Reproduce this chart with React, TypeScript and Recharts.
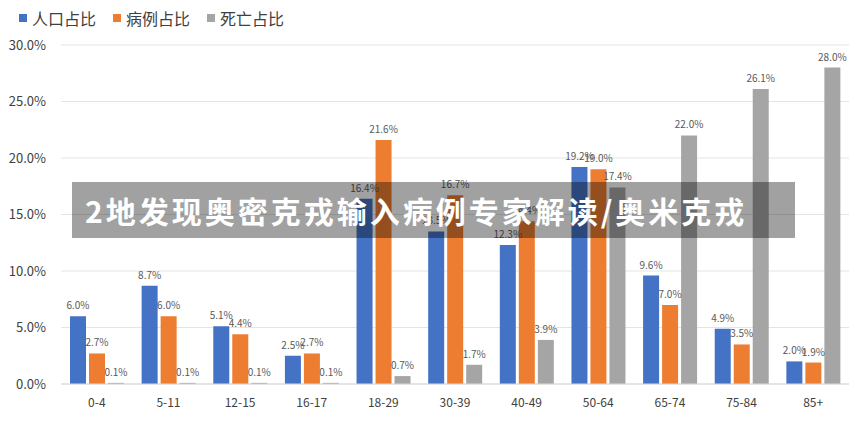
import { Bar, BarChart, CartesianGrid, LabelList, XAxis, YAxis } from 'recharts'

const AGES = ['0-4', '5-11', '12-15', '16-17', '18-29', '30-39', '40-49', '50-64', '65-74', '75-84', '85+']
const POPULATION = [6.0, 8.7, 5.1, 2.5, 16.4, 13.5, 12.3, 19.2, 9.6, 4.9, 2.0]
const CASES = [2.7, 6.0, 4.4, 2.7, 21.6, 16.7, 14.4, 19.0, 7.0, 3.5, 1.9]
const DEATHS = [0.1, 0.1, 0.1, 0.1, 0.7, 1.7, 3.9, 17.4, 22.0, 26.1, 28.0]
const Y_TICKS = [0, 5, 10, 15, 20, 25, 30]
const BANNER = '2地发现奥密克戎输入病例专家解读/奥米克戎'

const SERIES = [
  { key: 'pop', name: '人口占比', color: '#4472c4' },
  { key: 'cases', name: '病例占比', color: '#ed7d31' },
  { key: 'deaths', name: '死亡占比', color: '#a5a5a5' },
]

const data = AGES.map((age, i) => ({
  age,
  pop: POPULATION[i],
  cases: CASES[i],
  deaths: DEATHS[i],
}))

const FONT = '"Noto Sans CJK SC", "Noto Sans", sans-serif'
const pct = (v: number) => `${v.toFixed(1)}%`

export default function App() {
  return (
    <div style={{ position: 'absolute', left: 0, top: 0, width: 867, height: 421, background: '#fff', fontFamily: FONT }}>
      <BarChart
        width={867}
        height={421}
        data={data}
        margin={{ top: 45, right: 18, left: 0, bottom: 0 }}
        barCategoryGap={9}
        barGap={3}
      >
        <CartesianGrid vertical={false} stroke="#e4e4e4" />
        <XAxis
          dataKey="age"
          height={37}
          axisLine={{ stroke: '#d9d9d9' }}
          tickLine={false}
          tick={{ fill: '#404040', fontSize: 12, fontFamily: FONT }}
          tickMargin={8}
        />
        <YAxis
          width={61}
          domain={[0, 30]}
          ticks={Y_TICKS}
          tickFormatter={pct}
          axisLine={false}
          tickLine={false}
          tickSize={0}
          tickMargin={15}
          tick={{ fill: '#404040', fontSize: 13, fontFamily: FONT }}
        />
        {SERIES.map((s) => (
          <Bar key={s.key} dataKey={s.key} name={s.name} fill={s.color} isAnimationActive={false}>
            <LabelList dataKey={s.key} position="top" formatter={(v: any) => pct(v)} fill="#595959" fontSize={10} offset={7} />
          </Bar>
        ))}
      </BarChart>
      <div style={{ position: 'absolute', left: 19, top: 8, display: 'flex', fontSize: 16, color: '#404040', lineHeight: '20px' }}>
        {SERIES.map((s) => (
          <div key={s.key} style={{ display: 'flex', alignItems: 'center', marginRight: 17 }}>
            <span style={{ width: 8, height: 8, background: s.color, marginRight: 5, display: 'inline-block' }} />
            {s.name}
          </div>
        ))}
      </div>
      <div
        style={{
          position: 'absolute',
          left: 72,
          top: 182,
          width: 723,
          height: 56,
          background: 'rgba(0,0,0,0.37)',
          color: '#fff',
          fontWeight: 700,
          fontSize: 30,
          letterSpacing: 3,
          lineHeight: '56px',
          paddingLeft: 13,
          boxSizing: 'border-box',
          whiteSpace: 'nowrap',
        }}
      >
        {BANNER}
      </div>
    </div>
  )
}
